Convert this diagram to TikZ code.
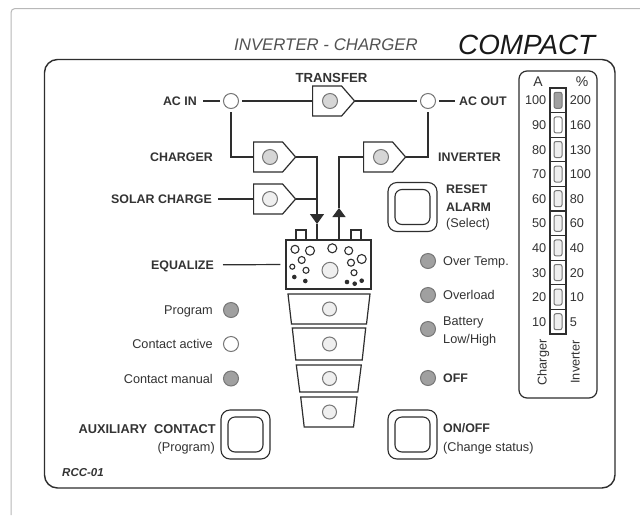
\documentclass[tikz,border=0pt]{standalone}
\usepackage{fontspec}
\setmainfont{Liberation Sans}
\usepackage{tikz}
\usetikzlibrary{arrows.meta, calc, shapes.symbols, positioning}
\definecolor{inkline}{HTML}{2E2E2E}
\definecolor{inktext}{HTML}{333333}
\definecolor{ledfull}{HTML}{A0A0A0}
\definecolor{ledpale}{HTML}{D6D6D6}
\definecolor{ledfaint}{HTML}{EFEFEF}
\definecolor{ledrim}{HTML}{777777}
\tikzset{
  wire/.style={draw=inkline,line width=1.2pt},
  txt/.style={inner sep=0pt,text=inktext,text height=9pt,text depth=0pt,font=\fontsize{12.7}{14}\selectfont},
  head/.style={txt,font=\fontsize{12.4}{14}\selectfont\bfseries},
  led/.style={circle,draw=ledrim,line width=1pt,fill=white,minimum size=15pt,inner sep=0pt,outer sep=3.5pt},
  ledon/.style={led,fill=ledfull},
  signbox/.style={signal,signal to=east,signal pointer angle=98,draw=inkline,line width=1.2pt,fill=white,
    minimum width=42pt,minimum height=30pt,inner sep=0pt,anchor=west},
  btnouter/.style={draw=inkline,line width=1.1pt,rounded corners=9pt,minimum size=49pt,inner sep=0pt},
  btninner/.style={draw=inkline,line width=1.1pt,rounded corners=7pt,minimum size=35pt,inner sep=0pt},
  cell/.style={draw=inkline,line width=1.2pt,fill=white,minimum width=16pt,minimum height=24.6pt,inner sep=0pt},
  lamp/.style={draw=ledrim,line width=1pt,rounded corners=2pt,minimum width=8pt,minimum height=16pt,inner sep=0pt},
}
\begin{document}
\begin{tikzpicture}[x=1pt,y=-1pt]
    \useasboundingbox (0,0) rectangle (640,515);
    \fill[white] (0,0) rectangle (640,515);

    % page edge and panel
    \draw[draw=black!28,line width=1pt,rounded corners=4pt] (11,515) -- (11,8.5) -- (640,8.5);
    \draw[wire,line width=1.4pt,rounded corners=13pt] (44.5,59.5) rectangle (615,488);

    % titles
    \node[txt,text=black!68,anchor=west,font=\fontsize{16.8}{18}\selectfont\itshape,text height=12pt] (subtitle) at (234,44) {INVERTER - CHARGER};
    \node[txt,text=black!90,anchor=west,font=\fontsize{27.8}{30}\selectfont\itshape,text height=20pt] (maintitle) at (458,44) {COMPACT};
    \node[head,anchor=west,font=\fontsize{11.5}{14}\selectfont\bfseries\itshape] (model) at (62,472) {RCC-01};

    % top row
    \node[head,anchor=east] (acin) at (197,101) {AC IN};
    \node[led] (acinled) at (231,101) {};
    \node[signbox] (transfer) at (312,101) {};
    \node[led,fill=ledpale] (transferled) at (330,101) {};
    \node[led] (acoutled) at (428,101) {};
    \node[head,anchor=west] (acout) at (459,101) {AC OUT};
    \node[head,font=\fontsize{13.2}{14}\selectfont\bfseries] (transfertxt) at (331.5,78) {TRANSFER};

    % source boxes
    \node[signbox] (charger) at (253,157) {};
    \node[led,fill=ledpale] (chargerled) at (270,157) {};
    \node[signbox] (solar) at (253,199) {};
    \node[led,fill=ledfaint] (solarled) at (270,199) {};
    \node[signbox] (inverter) at (363,157) {};
    \node[led,fill=ledpale] (inverterled) at (381,157) {};
    \node[head,anchor=east] (chargertxt) at (213,157) {CHARGER};
    \node[head,anchor=east] (solartxt) at (212,199) {SOLAR CHARGE};
    \node[head,anchor=west] (invertertxt) at (438,157) {INVERTER};

    % equalize block
    \draw[wire] (296,240) -- (296,230) -- (306,230) -- (306,240);
    \draw[wire] (351,240) -- (351,230) -- (361,230) -- (361,240);
    \node[draw=inkline,line width=1.2pt,fill=white,minimum width=85pt,minimum height=49pt,inner sep=0pt] (equalize) at (328.5,264.5) {};
    \foreach \cx/\cy/\r in {295/249.3/4, 310/250.7/4.5, 332.3/248.3/4.5, 348.7/250.7/4, 361.7/259/4.5, 351/262.7/3.5, 301.7/260/3.5, 292.3/266.7/2.5, 306/270.3/3, 354/272.7/3}
        \draw[inkline,line width=1.1pt] (\cx,\cy) circle (\r);
    \foreach \cx/\cy in {294.3/277, 305.3/281, 347/282, 354.7/283.7, 361.7/280.7}
        \fill[inkline] (\cx,\cy) circle (2.3);
    \node[led,fill=ledfaint,minimum size=16pt] (equalizeled) at (330,270.3) {};
    \node[head,anchor=east] (equalizetxt) at (214,265) {EQUALIZE};

    % level trapezoids
    \foreach \xa/\xb/\ya/\yb [count=\n] in {288/370/294/324, 292.3/365.7/328/360, 296.3/361.3/365/392, 300.7/357/397/427} {
        \draw[wire] (\xa,\ya) -- (\xb,\ya) -- (\xb-3.5,\yb) -- (\xa+3.5,\yb) -- cycle;
        \node[led,fill=ledfaint,minimum size=14pt] (level\n) at (329.5,{(\ya+\yb)/2}) {};
    }

    % connectors
    \coordinate (downtip) at (317,224);
    \coordinate (uptip) at (339,208);
    \draw[wire] (acin) [shorten <=6pt] -- (acinled);
    \draw[wire] (acinled) -- (transfer.west);
    \draw[wire] (transfer.east) -- (acoutled);
    \draw[wire] (acoutled) [shorten >=4pt] -- (acout);
    \draw[wire] (acinled.south) |- (charger.west);
    \draw[wire] (acoutled.south) |- (inverter.east);
    \draw[wire] (solartxt) [shorten <=6pt] -- (solar.west);
    \draw[wire] (solar.east) -- (solar.east -| downtip);
    \draw[wire,-{Triangle[width=14pt,length=10pt]}] (charger.east) -| (downtip);
    \draw[wire] (downtip) -- (downtip |- equalize.north);
    \draw[wire,-{Triangle[width=13pt,length=9pt]}] (uptip |- equalize.north) -- (uptip);
    \draw[wire] (uptip) |- (inverter.west);
    \draw[wire] (equalizetxt) [shorten <=9pt,shorten >=5pt] -- (equalize.west);

    % left indicators
    \node[ledon] (programled) at (231,310) {};
    \node[led] (activeled) at (231,344) {};
    \node[ledon] (manualled) at (231,378.5) {};
    \node[txt,anchor=east] (programtxt) at (213,310) {Program};
    \node[txt,anchor=east] (activetxt) at (213,344) {Contact active};
    \node[txt,anchor=east] (manualtxt) at (213,378.5) {Contact manual};

    % right indicators
    \node[ledon] (templed) at (428,261) {};
    \node[ledon] (loadled) at (428,295) {};
    \node[ledon] (battled) at (428,329) {};
    \node[ledon] (offled) at (428,378) {};
    \node[txt,anchor=west] (temptxt) at (443,261) {Over Temp.};
    \node[txt,anchor=west] (loadtxt) at (443,295) {Overload};
    \node[txt,anchor=west] (batttxt) at (443,321) {Battery};
    \node[txt,anchor=west] (lowtxt) at (443,339) {Low/High};
    \node[head,anchor=west] (offtxt) at (443,378) {OFF};

    % buttons
    \node[btnouter] (resetbtn) at (412.5,207) {};
    \node[btninner] (resetcap) at (resetbtn) {};
    \node[btnouter] (auxbtn) at (245.5,434.5) {};
    \node[btninner] (auxcap) at (auxbtn) {};
    \node[btnouter] (onoffbtn) at (412.5,434.5) {};
    \node[btninner] (onoffcap) at (onoffbtn) {};
    \node[head,anchor=west] (resettxt) at (446,189) {RESET};
    \node[head,anchor=west] (alarmtxt) at (446,207) {ALARM};
    \node[txt,anchor=west] (selecttxt) at (446,223) {(Select)};
    \node[head,anchor=east,font=\fontsize{12.8}{14}\selectfont\bfseries] (auxtxt) at (216,429) {AUXILIARY\ \ CONTACT};
    \node[txt,anchor=east] (progtxt) at (215,447) {(Program)};
    \node[head,anchor=west] (onofftxt) at (443,428) {ON/OFF};
    \node[txt,anchor=west] (statustxt) at (443,447) {(Change status)};

    % level bar
    \draw[wire,rounded corners=8pt] (519,71) rectangle (597,398);
    \node[txt,font=\fontsize{14}{16}\selectfont] (amptxt) at (538,82) {A};
    \node[txt,font=\fontsize{14}{16}\selectfont] (pcttxt) at (582,82) {\%};
    \foreach \amp/\pct/\tone [count=\n] in {100/200/ledfull, 90/160/white, 80/130/ledfaint, 70/100/ledfaint, 60/80/ledfaint, 50/60/ledfaint, 40/40/ledfaint, 30/20/ledfaint, 20/10/ledfaint, 10/5/ledfaint} {
        \node[cell] (cell\n) at (558,{88+24.6*(\n-0.5)}) {};
        \node[lamp,fill=\tone] (lamp\n) at (cell\n) {};
        \node[txt,anchor=east,left=3pt of cell\n] (amp\n) {\amp};
        \node[txt,anchor=west,right=3pt of cell\n] (pct\n) {\pct};
    }
    \node[txt,rotate=90] (chargeaxis) at (542,362.5) {Charger};
    \node[txt,rotate=90] (invertaxis) at (575,362) {Inverter};

\end{tikzpicture}
\end{document}
